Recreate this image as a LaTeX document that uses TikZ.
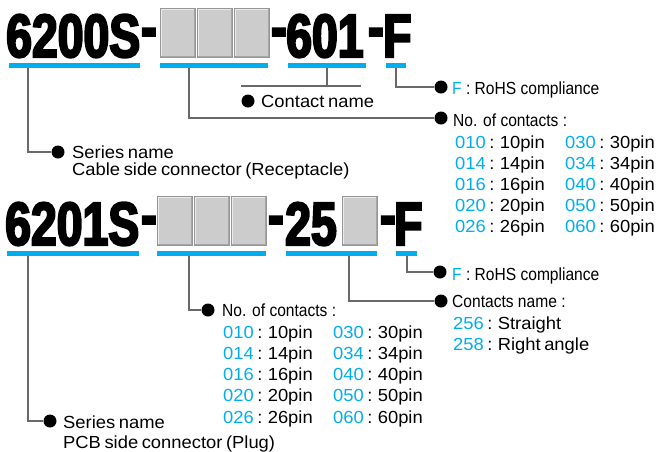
\documentclass[tikz,border=0pt]{standalone}
\usepackage{fontspec}
\setmainfont{Liberation Sans}
\newfontfamily\codefont[FakeStretch=0.76,FakeBold=3.5]{Liberation Sans}
\newfontfamily\widefont[FakeStretch=1.05,WordSpace=0.7]{Liberation Sans}
\newfontfamily\narrowfont[FakeStretch=0.89]{Liberation Sans}
\usetikzlibrary{calc,positioning}
\definecolor{codeblue}{RGB}{0,174,239}
\definecolor{keygray}{RGB}{204,204,204}
\definecolor{keyedge}{RGB}{150,150,150}
\definecolor{leadgray}{RGB}{105,105,105}
\newcommand\cd[1]{\textcolor{codeblue}{#1}}
\newcommand\partdash{\raisebox{9pt}{-}}
\tikzset{
  partno/.style={font=\codefont\bfseries\fontsize{61}{61}\selectfont,
    inner sep=0pt, anchor=base west},
  keybox/.style={minimum width=35pt, minimum height=49pt, inner sep=0pt,
    anchor=north west, fill=keygray, draw=keyedge, line width=.8pt,
    path picture={
      \draw[white!60!keygray, line width=3pt]
        (path picture bounding box.south west) |- (path picture bounding box.north east);
      \draw[keyedge!70!keygray, line width=3pt]
        (path picture bounding box.south west) -| (path picture bounding box.north east);
    }},
  uline/.style={fill=codeblue, inner sep=0pt, minimum height=5pt, anchor=north west},
  lead/.style={draw=leadgray, line width=1.1pt},
  bullet/.style={circle, fill=black, inner sep=0pt, minimum size=13pt},
  note/.style={font=\widefont\fontsize{17.5}{20}\selectfont, inner sep=0pt, anchor=base west},
  head/.style={note, font=\narrowfont\fontsize{17.5}{20}\selectfont}
}

\begin{document}
\begin{tikzpicture}[x=1pt,y=-1pt]
\useasboundingbox (0,0) rectangle (658,451);

% receptacle: 6200S-xxx-601-F
\node[partno] (p1a) at (6,57) {6200S};
\node[partno] (p1b) at (141,57) {\partdash};
\node[keybox] (k1a) at (160,8) {};
\node[keybox, right=1pt of k1a] (k1b) {};
\node[keybox, right=1pt of k1b] (k1c) {};
\node[partno] (p1c) at (271,57) {\partdash};
\node[partno] (p1d) at (286,57) {601};
\node[partno] (p1e) at (368,57) {\partdash};
\node[partno] (p1f) at (383,57) {F};

\node[uline, minimum width=131pt] (u1a) at (9,63) {};
\node[uline, minimum width=108pt] (u1b) at (160,63) {};
\node[uline, minimum width=78pt] (u1c) at (288,63) {};
\node[uline, minimum width=20pt] (u1d) at (386,63) {};

\node[bullet] (d1a) at (58,152) {};
\node[bullet] (d1b) at (441,118) {};
\node[bullet] (d1c) at (248,101) {};
\node[bullet] (d1d) at (441,87) {};

\draw[lead] ($(u1a.south west)+(19,0)$) |- (d1a);
\draw[lead] ($(u1b.south west)+(29,0)$) |- (d1b);
\draw[lead] ($(u1d.south west)+(10,0)$) |- (d1d);
\coordinate (cn1) at (241,86);
\coordinate (cn2) at (361,86);
\draw[lead] (cn1) -- (cn2);
\draw[lead] ($(u1c.south west)+(39,0)$) coordinate (cn0) -- (cn0 |- cn1);

\node[head] (n1d) at (452,94) {\cd{F} : RoHS compliance};
\node[note] (n1c) at (261,107) {Contact name};
\node[head] (n1b) at (453,126) {No. of contacts :};
\node[note] (n1a) at (72,158) {Series name};
\node[note] (n1e) at (72,175.5) {Cable side connector (Receptacle)};
\foreach \c/\p [count=\i] in {010/10,014/14,016/16,020/20,026/26}
  \node[note] (t1a\i) at (455,{148+21*(\i-1)}) {\cd{\c} : \p pin};
\foreach \c/\p [count=\i] in {030/30,034/34,040/40,050/50,060/60}
  \node[note] (t1b\i) at (565,{148+21*(\i-1)}) {\cd{\c} : \p pin};

% plug: 6201S-xxx-25x-F
\node[partno] (p2a) at (5,245) {6201S};
\node[partno] (p2b) at (141,245) {\partdash};
\node[keybox] (k2a) at (157,196) {};
\node[keybox, right=1pt of k2a] (k2b) {};
\node[keybox, right=1pt of k2b] (k2c) {};
\node[partno] (p2c) at (268,245) {\partdash};
\node[partno] (p2d) at (285,245) {25};
\node[keybox] (k2d) at (342,196) {};
\node[partno] (p2e) at (380,245) {\partdash};
\node[partno] (p2f) at (394,245) {F};

\node[uline, minimum width=132pt] (u2a) at (7,251) {};
\node[uline, minimum width=109pt] (u2b) at (157,251) {};
\node[uline, minimum width=91pt] (u2c) at (286,251) {};
\node[uline, minimum width=21pt] (u2d) at (396,251) {};

\node[bullet] (d2a) at (50,421) {};
\node[bullet] (d2b) at (208,310) {};
\node[bullet] (d2c) at (441,301) {};
\node[bullet] (d2d) at (440,272) {};

\draw[lead] ($(u2a.south west)+(21,0)$) |- (d2a);
\draw[lead] ($(u2b.south west)+(32,0)$) |- (d2b);
\draw[lead] ($(u2c.south west)+(63,0)$) |- (d2c);
\draw[lead] ($(u2d.south west)+(11,0)$) |- (d2d);

\node[head] (n2d) at (452,280) {\cd{F} : RoHS compliance};
\node[head] (n2c) at (452,307) {Contacts name :};
\node[note] (n2e) at (453,329) {\cd{256} : Straight};
\node[note] (n2f) at (453,350) {\cd{258} : Right angle};
\node[head] (n2b) at (222,316) {No. of contacts :};
\node[note] (n2a) at (63,428) {Series name};
\node[note] (n2g) at (63,448) {PCB side connector (Plug)};
\foreach \c/\p [count=\i] in {010/10,014/14,016/16,020/20,026/26}
  \node[note] (t2a\i) at (223,{338+21.3*(\i-1)}) {\cd{\c} : \p pin};
\foreach \c/\p [count=\i] in {030/30,034/34,040/40,050/50,060/60}
  \node[note] (t2b\i) at (333,{338+21.3*(\i-1)}) {\cd{\c} : \p pin};
\end{tikzpicture}
\end{document}
